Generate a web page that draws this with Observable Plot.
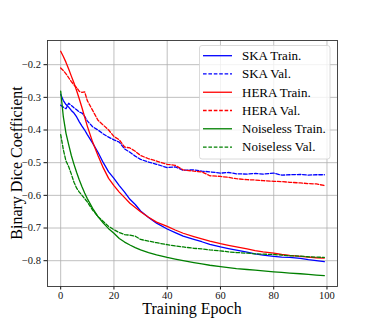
<!DOCTYPE html>
<html>
<head>
<meta charset="utf-8">
<script src="https://cdn.jsdelivr.net/npm/d3@7"></script>
<script src="https://cdn.jsdelivr.net/npm/@observablehq/plot@0.6"></script>
<style>
  html, body { margin: 0; padding: 0; background: #fff; }
  #chart { width: 374px; height: 327px; }
</style>
</head>
<body>
<div id="chart"></div>
<script>
const epochs = [0,1,2,3,4,5,6,7,8,9,10,12,14,16,18,20,22,24,26,28,30,33,36,40,43,46,50,53,56,60,63,66,70,73,76,80,83,86,90,93,96,99];

const skaTrain = [-0.291,-0.31,-0.322,-0.33,-0.34,-0.348,-0.36,-0.375,-0.388,-0.40,-0.414,-0.44,-0.468,-0.50,-0.528,-0.548,-0.57,-0.59,-0.612,-0.628,-0.648,-0.668,-0.685,-0.703,-0.714,-0.725,-0.735,-0.742,-0.75,-0.758,-0.763,-0.768,-0.774,-0.779,-0.783,-0.787,-0.789,-0.79,-0.793,-0.797,-0.80,-0.803];
const skaVal = [-0.324,-0.33,-0.335,-0.318,-0.325,-0.332,-0.338,-0.345,-0.348,-0.358,-0.372,-0.39,-0.40,-0.412,-0.422,-0.43,-0.437,-0.458,-0.468,-0.48,-0.49,-0.498,-0.505,-0.515,-0.513,-0.523,-0.522,-0.526,-0.528,-0.532,-0.53,-0.534,-0.535,-0.533,-0.535,-0.532,-0.538,-0.537,-0.536,-0.538,-0.537,-0.537];
const heraTrain = [-0.159,-0.175,-0.193,-0.213,-0.235,-0.256,-0.28,-0.305,-0.332,-0.36,-0.388,-0.437,-0.478,-0.516,-0.548,-0.57,-0.59,-0.607,-0.624,-0.637,-0.65,-0.667,-0.682,-0.695,-0.706,-0.716,-0.726,-0.733,-0.74,-0.748,-0.753,-0.758,-0.764,-0.769,-0.773,-0.777,-0.781,-0.784,-0.787,-0.789,-0.791,-0.792];
const heraVal = [-0.21,-0.218,-0.228,-0.24,-0.252,-0.262,-0.27,-0.282,-0.285,-0.283,-0.31,-0.34,-0.37,-0.385,-0.40,-0.42,-0.43,-0.452,-0.455,-0.465,-0.478,-0.488,-0.495,-0.505,-0.508,-0.522,-0.526,-0.528,-0.54,-0.542,-0.545,-0.549,-0.552,-0.553,-0.555,-0.557,-0.558,-0.56,-0.562,-0.564,-0.565,-0.57];
const noiselessTrain = [-0.281,-0.36,-0.41,-0.445,-0.478,-0.505,-0.53,-0.553,-0.574,-0.593,-0.61,-0.64,-0.665,-0.685,-0.702,-0.716,-0.732,-0.743,-0.752,-0.76,-0.767,-0.775,-0.782,-0.79,-0.795,-0.80,-0.806,-0.81,-0.814,-0.818,-0.821,-0.824,-0.827,-0.829,-0.831,-0.834,-0.836,-0.838,-0.84,-0.842,-0.844,-0.846];
const noiselessVal = [-0.414,-0.46,-0.495,-0.512,-0.535,-0.56,-0.578,-0.59,-0.60,-0.61,-0.62,-0.645,-0.665,-0.68,-0.695,-0.705,-0.714,-0.72,-0.722,-0.725,-0.735,-0.74,-0.745,-0.751,-0.755,-0.758,-0.762,-0.764,-0.767,-0.77,-0.773,-0.775,-0.777,-0.779,-0.78,-0.781,-0.783,-0.785,-0.786,-0.788,-0.789,-0.79];

const seriesNames = ["SKA Train.", "SKA Val.", "HERA Train.", "HERA Val.", "Noiseless Train.", "Noiseless Val."];
const seriesValues = [skaTrain, skaVal, heraTrain, heraVal, noiselessTrain, noiselessVal];
const xTicks = [0, 20, 40, 60, 80, 100];
const yTicks = [-0.8, -0.7, -0.6, -0.5, -0.4, -0.3, -0.2];
const xLabel = "Training Epoch";
const yLabel = "Binary Dice Coefficient";

// styles (kept separate from data)
const colors = ["#0000ff", "#0000ff", "#ff0000", "#ff0000", "#008000", "#008000"];
const dashed = [false, true, false, true, false, true];
const DASH = "3.6,1.8";
const FONT = "'Liberation Serif', 'Times New Roman', serif";

const tables = seriesValues.map((vals, i) =>
  epochs.map((e, j) => ({epoch: e, value: vals[j], series: seriesNames[i]}))
);

const W = 374, H = 327;
const mL = 47, mR = 37, mT = 40, mB = 41;

const lineMarks = tables.map((t, i) =>
  Plot.line(t, {
    x: "epoch", y: "value",
    stroke: colors[i], strokeWidth: 1.3,
    strokeDasharray: dashed[i] ? DASH : null
  })
);

const chart = Plot.plot({
  width: W, height: H,
  marginLeft: mL, marginRight: mR, marginTop: mT, marginBottom: mB,
  style: {fontFamily: FONT, fontSize: "10.5px", background: "#fff", color: "#111"},
  x: {domain: [-4.95, 103.95], ticks: xTicks, tickSize: 3.5, tickPadding: 1.5, label: null},
  y: {domain: [-0.879, -0.126], ticks: yTicks, tickSize: 3.5, tickPadding: 3, label: null,
      tickFormat: d => d3.format(".1f")(d).replace("-", "\u2212")},
  marks: [
    Plot.ruleX(xTicks, {stroke: "#b0b0b0", strokeWidth: 0.8}),
    Plot.ruleY(yTicks, {stroke: "#b0b0b0", strokeWidth: 0.8}),
    ...lineMarks,
    Plot.frame({stroke: "#333", strokeWidth: 0.9})
  ]
});

document.getElementById("chart").appendChild(chart);

const svg = d3.select(chart);

// axis titles
svg.append("text")
  .attr("x", (mL + W - mR) / 2).attr("y", 314)
  .attr("text-anchor", "middle")
  .style("font-family", FONT).style("font-size", "16px").attr("fill", "#000")
  .text(xLabel);

svg.append("text")
  .attr("transform", `translate(21.5,${(mT + H - mB) / 2}) rotate(-90)`)
  .attr("text-anchor", "middle")
  .style("font-family", FONT).style("font-size", "16px").attr("fill", "#000")
  .text(yLabel);

// legend
const lg = svg.append("g").attr("text-anchor", "start");
lg.append("rect")
  .attr("x", 199.5).attr("y", 45.5).attr("width", 130.5).attr("height", 113.5)
  .attr("rx", 2.5).attr("fill", "#fff").attr("fill-opacity", 0.8)
  .attr("stroke", "#d0d0d0").attr("stroke-width", 0.8);
seriesNames.forEach((name, i) => {
  const y = 55.7 + i * 18.27;
  lg.append("line")
    .attr("x1", 203).attr("x2", 232).attr("y1", y).attr("y2", y)
    .attr("stroke", colors[i]).attr("stroke-width", 1.3)
    .attr("stroke-dasharray", dashed[i] ? DASH : null);
  lg.append("text")
    .attr("x", 242).attr("y", y).attr("dy", "0.33em")
    .attr("text-anchor", "start")
    .style("font-family", FONT).style("font-size", "13px").attr("fill", "#000")
    .text(name);
});
</script>
</body>
</html>
